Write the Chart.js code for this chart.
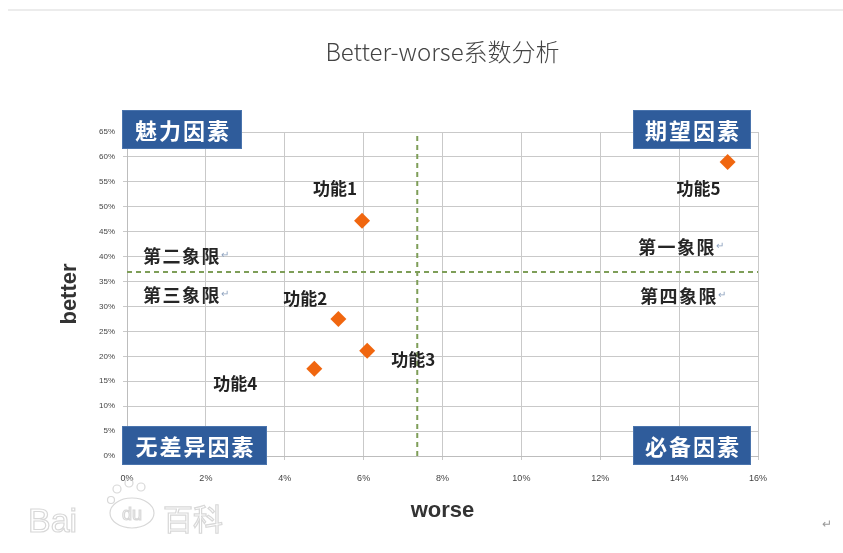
<!DOCTYPE html>
<html><head><meta charset="utf-8">
<script src="https://cdn.jsdelivr.net/npm/chart.js@4.4.1/dist/chart.umd.min.js"></script>
<style>html,body{margin:0;padding:0;background:#fff;}#wrap{width:843px;height:553px;}</style>
</head><body><div id="wrap"><canvas id="c" width="843" height="553"></canvas></div>
<script>
const chartTitle = 'Better-worse系数分析';
const xAxisTitle = 'worse';
const yAxisTitle = 'better';
const featureNames = ['功能1', '功能2', '功能3', '功能4', '功能5'];
const worseValues = [0.0596, 0.0536, 0.0609, 0.0475, 0.1523];
const betterValues = [0.472, 0.275, 0.211, 0.175, 0.590];
const worseThreshold = 0.0736;
const betterThreshold = 0.369;
const xTicks = [0, 0.02, 0.04, 0.06, 0.08, 0.10, 0.12, 0.14, 0.16];
const yTicks = [0, 0.05, 0.10, 0.15, 0.20, 0.25, 0.30, 0.35, 0.40, 0.45, 0.50, 0.55, 0.60, 0.65];
const quadrantNames = ['第一象限', '第二象限', '第三象限', '第四象限'];
const factorNames = ['期望因素', '魅力因素', '无差异因素', '必备因素'];

const CJK = '"Noto Sans CJK SC", "Liberation Sans", sans-serif';
const labelOffsets = [[-27, -32], [-33, -20], [46, 9], [-79, 15], [-29, 27]];

const overlay = {
  id: 'overlay',
  beforeDraw(chart) {
    const ctx = chart.ctx;
    const a = chart.chartArea;
    ctx.save();
    ctx.fillStyle = '#ECECEC';
    ctx.fillRect(8, 9, 835, 2);
    // chart title, centred over the plot area
    ctx.font = '300 24px ' + CJK;
    ctx.fillStyle = '#444';
    ctx.textAlign = 'center';
    ctx.textBaseline = 'middle';
    ctx.fillText(chartTitle, (a.left + a.right) / 2, 52);
    ctx.restore();
  },
  afterDraw(chart) {
    const ctx = chart.ctx;
    const a = chart.chartArea;
    const xs = chart.scales.x, ys = chart.scales.y;
    ctx.save();
    ctx.textBaseline = 'middle';
    ctx.textAlign = 'left';
    const qPos = [
      [a.right - 120, a.top + 115],
      [a.left + 16, a.top + 124],
      [a.left + 16, a.top + 163],
      [a.right - 118, a.top + 164]
    ];
    quadrantNames.forEach((q, i) => {
      ctx.font = 'bold 18px ' + CJK;
      ctx.fillStyle = '#262626';
      ctx.letterSpacing = '1.5px';
      ctx.fillText(q, qPos[i][0], qPos[i][1]);
      const w = ctx.measureText(q).width;
      ctx.letterSpacing = '0px';
      ctx.font = '10px ' + CJK;
      ctx.fillStyle = '#8fa3bf';
      ctx.fillText('↵', qPos[i][0] + w, qPos[i][1] - 2);
    });
    const boxes = [
      [a.right - 125, a.top - 22, 118, 39],
      [a.left - 5, a.top - 22, 120, 39],
      [a.left - 5, a.bottom - 30, 145, 39],
      [a.right - 125, a.bottom - 30, 118, 39]
    ];
    factorNames.forEach((f, i) => {
      const [bx, by, bw, bh] = boxes[i];
      ctx.fillStyle = '#2F5C9B';
      ctx.fillRect(bx, by, bw, bh);
      ctx.strokeStyle = '#4a74ad';
      ctx.lineWidth = 1;
      ctx.strokeRect(bx + 0.5, by + 0.5, bw - 1, bh - 1);
      ctx.font = 'bold 22px ' + CJK;
      ctx.fillStyle = '#ffffff';
      ctx.textAlign = 'center';
      ctx.letterSpacing = '2px';
      ctx.fillText(f, bx + bw / 2 + 1, by + bh / 2 + 1);
      ctx.letterSpacing = '0px';
    });
    ctx.font = 'bold 17px ' + CJK;
    ctx.fillStyle = '#222';
    ctx.textAlign = 'center';
    featureNames.forEach((n, i) => {
      const px = xs.getPixelForValue(worseValues[i]);
      const py = ys.getPixelForValue(betterValues[i]);
      ctx.fillText(n, px + labelOffsets[i][0], py + labelOffsets[i][1]);
    });
    // watermark
    ctx.strokeStyle = '#d8d8d8';
    ctx.lineWidth = 1.2;
    ctx.textAlign = 'left';
    ctx.textBaseline = 'alphabetic';
    ctx.font = '34px "Liberation Sans", sans-serif';
    ctx.strokeText('Bai', 28, 532);
    ctx.font = '30px ' + CJK;
    ctx.strokeText('百科', 163, 530);
    [[117, 489, 4], [129, 483, 4], [141, 487, 4], [111, 500, 3.5]].forEach(c => {
      ctx.beginPath(); ctx.arc(c[0], c[1], c[2], 0, Math.PI * 2); ctx.stroke();
    });
    ctx.beginPath(); ctx.ellipse(132, 513, 22, 15, 0, 0, Math.PI * 2); ctx.stroke();
    ctx.font = '18px "Liberation Sans", sans-serif';
    ctx.textAlign = 'center';
    ctx.strokeText('du', 132, 520);
    ctx.textAlign = 'left';
    ctx.font = '12px ' + CJK;
    ctx.fillStyle = '#999';
    ctx.fillText('↵', 822, 528);
    ctx.restore();
  }
};

new Chart(document.getElementById('c'), {
  type: 'scatter',
  data: {
    datasets: [
      {
        label: 'features',
        data: worseValues.map((x, i) => ({ x: x, y: betterValues[i] })),
        pointStyle: 'rectRot',
        pointRadius: 8,
        pointHoverRadius: 8,
        backgroundColor: '#F0660F',
        borderColor: '#F0660F',
        borderWidth: 0
      },
      {
        label: 'worse-threshold',
        data: [{ x: worseThreshold, y: 0 }, { x: worseThreshold, y: yTicks[yTicks.length - 1] }],
        showLine: true,
        pointRadius: 0,
        borderColor: '#7E9E58',
        borderWidth: 2,
        borderDash: [5, 4]
      },
      {
        label: 'better-threshold',
        data: [{ x: 0, y: betterThreshold }, { x: xTicks[xTicks.length - 1], y: betterThreshold }],
        showLine: true,
        pointRadius: 0,
        borderColor: '#7E9E58',
        borderWidth: 2,
        borderDash: [5, 4]
      }
    ]
  },
  options: {
    responsive: false,
    animation: false,
    events: [],
    layout: { padding: { left: 55, right: 85, top: 132, bottom: 25 } },
    plugins: {
      legend: { display: false },
      tooltip: { enabled: false },
      title: { display: false }
    },
    scales: {
      x: {
        type: 'linear',
        min: xTicks[0],
        max: xTicks[xTicks.length - 1],
        afterBuildTicks: s => { s.ticks = xTicks.map(v => ({ value: v })); },
        afterFit: s => { s.height = 72; },
        ticks: {
          callback: v => Math.round(v * 100) + '%',
          color: '#444',
          font: { size: 9, family: '"Liberation Sans", sans-serif' },
          padding: 13,
          maxRotation: 0
        },
        grid: { color: '#C9C9C9', tickLength: 4 },
        border: { color: '#BDBDBD' },
        title: {
          display: true,
          text: xAxisTitle,
          color: '#333',
          font: { size: 22, weight: 'bold', family: '"Liberation Sans", sans-serif' },
          padding: { top: 0, bottom: 4 }
        }
      },
      y: {
        type: 'linear',
        min: yTicks[0],
        max: yTicks[yTicks.length - 1],
        afterBuildTicks: s => { s.ticks = yTicks.map(v => ({ value: v })); },
        afterFit: s => { s.width = 72; },
        ticks: {
          callback: v => Math.round(v * 100) + '%',
          color: '#444',
          font: { size: 8, family: '"Liberation Sans", sans-serif' },
          padding: 8
        },
        grid: { color: '#C9C9C9', tickLength: 4 },
        border: { color: '#BDBDBD' },
        title: {
          display: true,
          text: yAxisTitle,
          color: '#333',
          font: { size: 22, weight: 'bold', family: '"Liberation Sans", sans-serif' },
          padding: { top: 2, bottom: 0 }
        }
      }
    }
  },
  plugins: [overlay]
});
</script>
</body></html>
